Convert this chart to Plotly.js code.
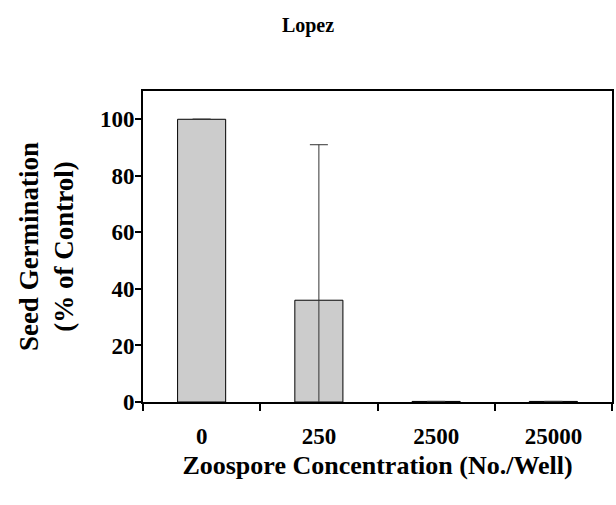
<!DOCTYPE html>
<html>
<head>
<meta charset="utf-8">
<script src="https://cdn.plot.ly/plotly-3.0.1.min.js"></script>
<style>html,body{margin:0;padding:0;background:#fff;}#chart{width:616px;height:505px;}</style>
</head>
<body>
<div id="chart"></div>
<script>
const categories = ["0", "250", "2500", "25000"];
const germination = [100, 36, 0.2, 0.2];
const errorValues = [0, 55, 0, 0];
const yTicks = [0, 20, 40, 60, 80, 100];

const font = "Liberation Serif, Times New Roman, serif";

const trace = {
  type: "bar",
  x: categories,
  y: germination,
  marker: {color: "#cccccc", line: {color: "#000000", width: 1}},
  error_y: {type: "data", array: errorValues, visible: true, color: "#333333", thickness: 1, width: 9},
  hoverinfo: "none"
};

const layout = {
  width: 616, height: 505,
  margin: {l: 143, r: 4, t: 91, b: 103},
  paper_bgcolor: "#ffffff", plot_bgcolor: "#ffffff",
  showlegend: false,
  bargap: 0.59,
  title: {text: "<b>Lopez</b>", font: {family: font, size: 20, color: "#000"}, x: 0.5, xanchor: "center", y: 0.95, yanchor: "middle"},
  xaxis: {
    type: "category",
    range: [-0.5, 3.5],
    tickson: "boundaries",
    ticks: "outside", ticklen: 7, tickwidth: 2, tickcolor: "#000",
    ticklabelstandoff: 12,
    showline: true, linecolor: "#000", linewidth: 2, mirror: true,
    showgrid: false, zeroline: false,
    tickfont: {family: font, size: 23, color: "#000", weight: "bold"},
    title: {text: "<b>Zoospore Concentration (No./Well)</b>", font: {family: font, size: 26, color: "#000"}, standoff: 8}
  },
  yaxis: {
    range: [0, 110],
    tickvals: yTicks,
    ticktext: yTicks.map(v => "<b>" + v + "</b>"),
    ticks: "outside", ticklen: 6, tickwidth: 2, tickcolor: "#000",
    ticklabelstandoff: -4,
    showline: true, linecolor: "#000", linewidth: 2, mirror: true,
    showgrid: false, zeroline: false,
    tickfont: {family: font, size: 23, color: "#000"},
    title: {text: "<b>Seed Germination<br>(% of Control)</b>", font: {family: font, size: 27, color: "#000"}, standoff: 18}
  }
};

Plotly.newPlot("chart", [trace], layout, {displayModeBar: false, staticPlot: true});
</script>
</body>
</html>
